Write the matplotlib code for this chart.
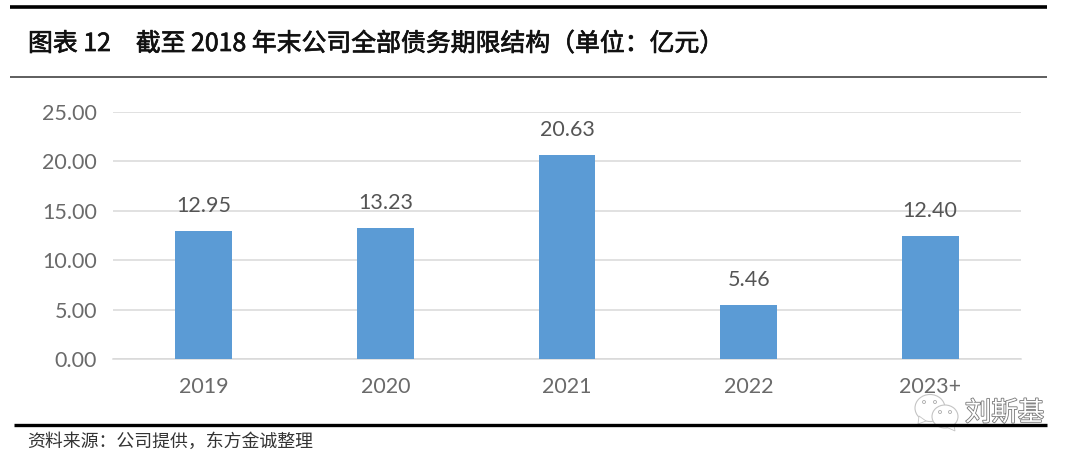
import matplotlib
matplotlib.use("Agg")
import matplotlib.pyplot as plt
from matplotlib.lines import Line2D
from matplotlib.patches import Ellipse, Polygon
import matplotlib.patheffects as pe

categories = ['2019', '2020', '2021', '2022', '2023+']
values = [12.95, 13.23, 20.63, 5.46, 12.40]
value_labels = ['12.95', '13.23', '20.63', '5.46', '12.40']
y_ticks = [0, 5, 10, 15, 20, 25]
title = '图表 12\u3000截至 2018 年末公司全部债务期限结构（单位：亿元）'
source = '资料来源：公司提供，东方金诚整理'
watermark = '刘斯基'

W, H = 1080, 462
fig = plt.figure(figsize=(W / 100, H / 100), dpi=100, facecolor='white')
ax = fig.add_axes([113 / W, 1 - 359 / H, (1021 - 113) / W, (359 - 112) / H])
ax.set_xlim(-0.5, 4.5)
ax.set_ylim(0, 25)
ax.set_axisbelow(True)
ax.yaxis.grid(True, color='#D9D9D9', lw=1.1)
ax.bar(range(5), values, width=0.313, color='#5B9BD5', zorder=3)
for s in ax.spines.values():
    s.set_visible(False)
ax.spines['bottom'].set_visible(True)
ax.spines['bottom'].set_color('#D9D9D9')
ax.spines['bottom'].set_linewidth(1.1)
ax.set_xticks(range(5))
ax.set_xticklabels(categories)
ax.set_yticks(y_ticks)
ax.set_yticklabels([f'{v:.2f}' for v in y_ticks])
ax.tick_params(axis='both', length=0, labelsize=15.5, labelcolor='#6A6A6A')
ax.tick_params(axis='x', pad=13)
ax.tick_params(axis='y', pad=11.5)
for t in ax.get_xticklabels() + ax.get_yticklabels():
    t.set_family(['Lato', 'DejaVu Sans'])
for i, (v, lab) in enumerate(zip(values, value_labels)):
    ax.annotate(lab, (i, v), xytext=(0, 11), textcoords='offset points', ha='center', va='bottom',
                fontsize=15.5, color='#555555', family=['Lato', 'DejaVu Sans'])

def rule(y, x0, x1, lw, color='black'):
    fig.add_artist(Line2D([x0 / W, x1 / W], [1 - y / H, 1 - y / H], color=color, lw=lw, solid_capstyle='butt'))

rule(7, 10, 1047, 2.6)
rule(76.5, 10, 1047, 1.1, '#333333')
rule(425, 14, 1047, 2.4)

fig.text(28 / W, 1 - 44 / H, title, fontsize=17.9, va='center', ha='left',
         color='#111111', family=['Noto Sans CJK SC', 'DejaVu Sans'],
         path_effects=[pe.withStroke(linewidth=0.5, foreground='#111111')])
fig.text(27 / W, 1 - 442 / H, source, fontsize=12.9, va='center', ha='left',
         color='#333333', family=['Noto Sans CJK SC', 'DejaVu Sans'])

# WeChat-style watermark
overlay = fig.add_axes([0, 0, 1, 1], facecolor='none')
overlay.set_xlim(0, W)
overlay.set_ylim(H, 0)
overlay.axis('off')
overlay.add_patch(Ellipse((930, 408), 30, 27, fc='white', ec='#C4C4C4', lw=0.8, zorder=5))
overlay.add_patch(Polygon([[919, 416], [926, 421], [918, 424]], fc='white', ec='#C4C4C4', lw=0.6, zorder=5))
overlay.add_patch(Ellipse((945, 416.5), 26, 23, fc='white', ec='#C4C4C4', lw=0.8, zorder=6))
overlay.add_patch(Polygon([[944, 426], [954, 425], [955, 431]], fc='white', ec='#C4C4C4', lw=0.6, zorder=6))
for cx, cy, z in [(924, 402, 7), (935, 402, 7), (940, 412, 7), (950, 412, 7)]:
    overlay.add_patch(Ellipse((cx, cy), 3, 3, fc='white', ec='#AAAAAA', lw=0.6, zorder=z))
overlay.text(965, 413, watermark, fontsize=19, color='white', ha='left', va='center', zorder=7,
             family=['Noto Sans CJK SC', 'DejaVu Sans'],
             path_effects=[pe.withStroke(linewidth=1.2, foreground='#777777')])

fig.savefig('out.png', dpi=100)
